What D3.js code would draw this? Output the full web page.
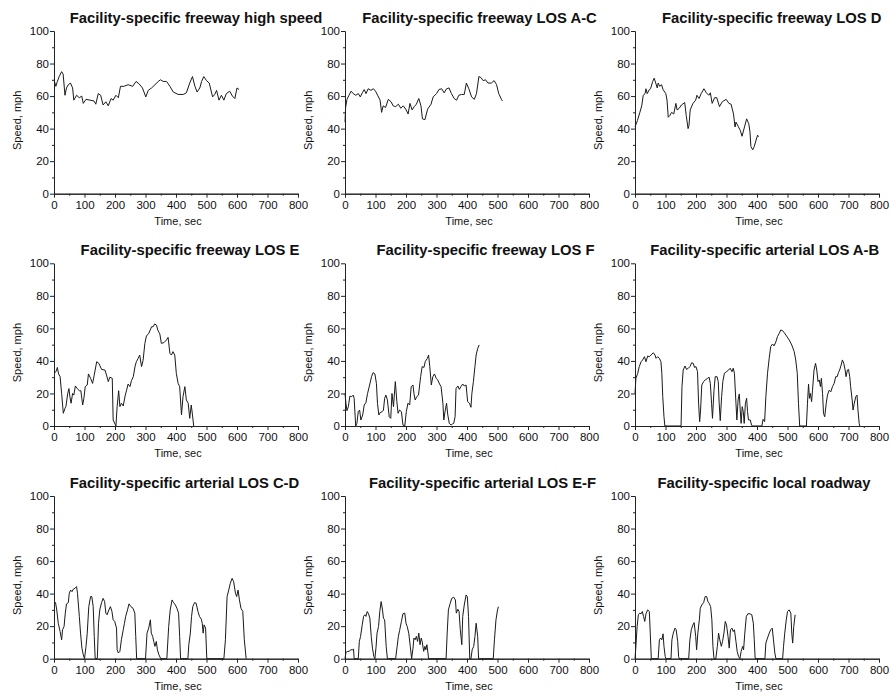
<!DOCTYPE html>
<html><head><meta charset="utf-8">
<script src="https://cdn.jsdelivr.net/npm/d3@7"></script>
<style>body{margin:0;background:#fff} svg{display:block} text{font-family:"Liberation Sans",Arial,sans-serif;fill:#111}</style>
</head><body><svg id="c" width="890" height="696"></svg>
<script>
const titles = [
  "Facility-specific freeway high speed",
  "Facility-specific freeway LOS A-C",
  "Facility-specific freeway LOS D",
  "Facility-specific freeway LOS E",
  "Facility-specific freeway LOS F",
  "Facility-specific arterial LOS A-B",
  "Facility-specific arterial LOS C-D",
  "Facility-specific arterial LOS E-F",
  "Facility-specific local roadway"
];
const xTicks = [0,100,200,300,400,500,600,700,800];
const xMinorTicks = [50,150,250,350,450,550,650,750];
const yTicks = [0,20,40,60,80,100];
const yMinorTicks = [10,30,50,70,90];
const xLabel = "Time, sec";
const yLabel = "Speed, mph";

const freewayHighSpeed = [[0,70],[6,66],[11,69],[17,72],[25,75],[30,73.5],[36,60.5],[41,65],[47,67],[54,68],[61,65],[65,57.5],[74,60.5],[83,59],[91,60],[96,55.5],[105,58],[118,57.5],[131,57],[137,55],[145,61.5],[153,60.5],[161,54.5],[170,56.5],[178,54],[187,58.5],[194,57.5],[203,60.5],[211,59],[218,66],[229,66],[243,67],[258,66],[269,69],[279,67.5],[290,65],[301,59.5],[309,63.5],[320,65],[331,67],[342,69],[349,70],[358,69],[369,69],[380,66],[391,62.5],[407,61],[424,61],[434,62],[445,68],[454,72],[462,66],[469,62.5],[478,65],[484,69],[491,72],[500,69.5],[509,68],[520,59.5],[527,61],[533,63.5],[541,57.5],[549,60.5],[557,57.5],[565,61.5],[576,63],[585,60],[593,58.5],[600,65],[607,64]];

const freewayLosAC = [[0,44],[2,53],[6.5,58],[13,60.5],[20,63],[27,61.5],[35,60.5],[44,61.5],[50,59.5],[57,62],[63,64],[69,61.5],[76,64.5],[85,63.5],[93,64.5],[100,63],[107,60.5],[115,57.5],[120,50],[125,54],[133,53],[142,58],[151,56.5],[158,54],[166,53.5],[175,55],[183,52.5],[191,54],[199,52],[207,49],[213,55.5],[220,51.5],[227,53.5],[234,55],[242,58.5],[249,54],[254,46],[262,45.5],[271,52],[282,55],[289,59.5],[300,61.5],[308,64],[317,64.5],[325,62],[333,64.5],[341,65],[349,61.5],[358,58.5],[366,57.5],[373,60.5],[382,61],[391,61],[398,68],[406,64.5],[415,59.5],[424,58],[431,61.5],[439,72],[445,71.5],[453,69.5],[461,70],[469,68],[480,68],[489,69.5],[497,67],[504,61.5],[513,58],[516,57]];

const freewayLosD = [[0,41],[8,45],[16,50],[22,54],[27,60.5],[33,61.5],[36,64.5],[40,61.5],[47,64],[51,64.5],[58,69],[63,71],[68,68],[73,65],[76,68],[81,66],[87,67],[92,64],[101,61.5],[105,57.5],[109,47],[114,48],[120,50],[127,49],[134,55.5],[138,51.5],[145,52.5],[152,54.5],[163,56],[168,48],[174,40],[177,42],[181,51.5],[190,55.5],[199,57.5],[203,60.5],[210,58.5],[217,61.5],[226,64.5],[234,62],[242,60.5],[247,62],[253,55.5],[261,59],[268,59],[277,53.5],[286,56.5],[299,58],[308,55.5],[315,55],[323,49],[328,41],[331,44],[338,41.5],[345,39],[351,35.3],[359,41],[366,46],[373,43],[377,38],[380,29],[386,27],[391,29],[397,33],[402,36],[405,35]];

const freewayLosE = [[0,32.4],[6.5,33.4],[11,36],[15,32],[20,30.3],[25,20],[30.5,7.8],[36,10.9],[39,11.9],[45,20],[49,23],[52,18],[56,14],[61,20],[65,19],[70,24.6],[76,23],[83,21.7],[88,21.7],[94,12.9],[98,17],[102.5,24.2],[109,25.2],[113,32],[120,29.3],[126.5,26.2],[132,31.4],[140,39.5],[147,38.5],[156,34.8],[167,34.4],[172,31.4],[178,27.3],[183,30],[191,29.3],[194,3.7],[200,1.2],[203,0],[207,11.9],[212,21.7],[216,11.9],[221,14],[227,12.3],[233,18.4],[238,22],[243,25.8],[249,24.2],[254,27.9],[260,30.3],[266,36.9],[270,39.5],[276,41.6],[281,43.6],[287,36.5],[292,40.2],[298,50.8],[303,55.3],[311,57],[320,61],[325,61],[330,62.7],[336,62],[341,58.6],[347,56.6],[352,50.8],[360,51.2],[369,52.9],[374,54.5],[380,44.7],[385,43.6],[390,45.7],[396,43.6],[401,32.4],[407,26.2],[412,24.2],[418,6.8],[423,18],[429,24.2],[434,16],[440,14],[445,4.7],[450,12.9],[454,6.8],[458,0]];

const freewayLosF = [[0,20],[3,14],[6.5,9.4],[11,11.9],[16,18.4],[22,18],[27,19],[30,17],[35,0],[39,1.6],[43.5,8.8],[48,9.8],[52,3.7],[58,6.8],[63,12.9],[68.5,14.3],[74,20],[81.5,25.8],[87,30.3],[92,32.8],[98,32],[103,26.2],[106.5,14],[111,6.8],[115,8.2],[122,8.8],[126,9.8],[130,17],[134,19],[139,16],[145,5.7],[150,4.7],[154,20],[159,11.9],[165,27.3],[170,15],[174,7.8],[179,9.8],[185,8.8],[190,0.6],[196,0],[201,8.8],[206.5,14],[212,12.9],[217,24.2],[223,25.2],[226,20],[230,16],[235,18],[241,19],[248,30.3],[253,36.5],[259,36],[263,39.5],[270,41.6],[274,43.6],[278,36.5],[283,25.2],[288,30.3],[293.5,32],[299,29.3],[304,28.3],[310,25.8],[315,24.2],[321,14],[324,3.7],[328,8.8],[333,14],[337,6.8],[342,1.6],[348,0.6],[352,1.2],[356.5,1.6],[361,5.7],[364,23],[370,24.6],[375,22.5],[380,24.2],[386,25.8],[391,24.6],[397,25.2],[402,15],[408,14],[413,11.5],[416,20],[421,27.3],[426,36.5],[430,43.6],[435,47.7],[440,49.8]];

const arterialLosAB = [[0,20],[3,29.3],[9,32.4],[14,36.5],[20,39.5],[25,40.6],[31,42.6],[36,39.5],[41.5,43],[47,42.6],[52,43.6],[60,45],[65.5,43.6],[69,41.6],[74,42.6],[80,41.6],[85,39.5],[88,32.4],[91,18],[95,5.7],[98,0],[151,0],[154,24.2],[158,34.4],[164,36.9],[169,34.8],[175,35.5],[180,36.5],[186,38.9],[191,38.5],[195,36],[200,36.5],[205,33.4],[208.5,14],[212,2.7],[215,9.8],[219,25.2],[225,27.3],[230,28.3],[238,29.3],[243,30],[247,26.2],[251,14],[254,4.7],[259,22],[263,30.3],[269,30.3],[273,27.3],[276,14],[279.5,3.3],[284,18],[288,27.3],[293,32.4],[300,33.4],[307,34.4],[312,35.5],[318,33.4],[322,35.5],[326,32.4],[331,14],[334,3.7],[338,16],[342,19.7],[345,9.8],[348,1.6],[351.5,11.9],[355,8.8],[358,1.6],[362,14],[366,17],[369,8.8],[372,3.7],[378,3.7],[382,0.6],[385,0],[416,0],[420,4.1],[425,2.7],[429,18],[434.5,32.4],[440,41.6],[445,48.8],[451,50.4],[456,49.2],[462,51.8],[467,54.9],[473,57],[478,59],[484,58.6],[489,57.4],[497,55.3],[505.5,52.9],[514,49.8],[522,45.7],[527,40.6],[532,32.4],[536,14],[540,0],[562,0],[565.5,14],[569,25.8],[572,17],[575,20],[579,15],[582,22],[587,34.4],[592,38.5],[596,34.4],[600,27.3],[604,28.3],[608,24.2],[611,29.3],[615,20],[618,7.8],[622,5.7],[627,14],[631,19],[636.5,22],[642,21],[647.5,24.2],[653,26.2],[658,30.3],[663,30.3],[667,32.8],[671,34.4],[676,37.5],[680,40.6],[684.5,38.5],[689,34.4],[692,30.3],[696.5,34.4],[700,34.8],[704,30.3],[707,24.2],[712,16],[715,9.8],[719,14],[724,18],[728,19],[731,9.8],[735,1.6],[737,0]];

const arterialLosCD = [[0,35],[5,34.5],[9,30],[14,21.8],[20,16.7],[25,11.6],[28,17.8],[33,19.8],[37,28],[41,33.7],[47,34.5],[50,40.2],[54.5,42.2],[59,41.2],[63,42.7],[69,43.3],[74,44.3],[77,40.2],[83,26],[87,15.7],[91.5,6.5],[96,2.4],[100,0],[105,7.6],[109,15.7],[114,32],[120,38.2],[124,38.2],[128.5,32],[132,13.7],[135,0],[142,0],[146,21.8],[150,30],[156,34.5],[161,37.1],[166,35.1],[170,28],[174,27],[180,30],[185,32],[190,29],[194,23.9],[199,22.9],[205,18.8],[207,5.5],[211,3.5],[216,4.5],[221,11.6],[227,17.8],[231,21.8],[235,26],[241,30],[246,33.7],[252,32],[259,31],[265,28],[268,13.7],[271,0],[300,0],[305,15.7],[310.5,18.8],[316,23.9],[319,15.7],[323.5,13.7],[327,10.6],[331,7.6],[335.5,10.6],[339,5.5],[344,2.4],[350,0],[370,0],[376,19.8],[381,30],[387,36.1],[392,34.5],[398,33],[403,31],[408.5,28],[412,13.7],[415,0],[439,0],[442,8.6],[447,15.7],[451,26],[455,32],[461,34.5],[466,34.1],[472,29],[477,26],[483,24.3],[486,21.8],[489,15.7],[492,20.8],[497,18.8],[501,0],[557,0],[562,11.6],[567.5,38.2],[573,42.2],[578,46.3],[584,49.4],[589,47.3],[595,40.2],[599,38.2],[603.5,42.2],[608,36.1],[613,31],[619,29],[624,11.6],[630,0]];

const arterialLosEF = [[0,0],[3,3.9],[9,4.5],[14,4.5],[18.5,5.5],[24,5.5],[28,5.9],[30,0],[43.5,0],[47,10.6],[51,13.7],[56.5,20.8],[61,26],[65,27],[68.5,26],[73,29],[77,27.6],[81.5,24.9],[86,13.7],[90,6.5],[94.6,1.4],[98,0],[102,7.6],[105,15.7],[110,19.8],[114,29],[118.5,35.1],[123,30],[126,24.9],[130,23.9],[135,7.6],[139,0],[166,0],[171,7.6],[175,13.7],[179,17.3],[185,22.9],[190,27.6],[196,28],[200,21.8],[204,19.8],[209,15.7],[214,7.6],[218.5,0],[223,6.5],[226,12.7],[230,11.6],[234,13.7],[238,10.6],[242,15.7],[246,8.6],[250,12.7],[253,10.6],[258,4.5],[262,7.6],[265,5.5],[268.5,8.6],[272,3.5],[274,0],[331.5,0],[335,15.7],[339,30],[345,34.1],[350,37.1],[356.5,37.8],[362,36.1],[365,28],[370,30.4],[374,29],[378,17.8],[383,8.6],[386,26],[391,33],[397,39.2],[401,38.2],[405,26],[409,0],[413,0],[417,5.5],[422,7.6],[426,13.7],[430,21.8],[435,13.7],[438,0],[486,0],[490,11.6],[495,23.9],[500,30],[503,32]];

const localRoadway = [[0,0],[3,7.6],[7,19.8],[11,27],[15,28],[20,27.6],[24,29],[28,26],[32,22.9],[36,27.6],[41.5,30],[47,29],[50,15.7],[53.5,0],[76,0],[80,11.6],[84,12.7],[88,11.6],[92,15.3],[95,7.6],[99,1.4],[101.5,0],[118,0],[121,11.6],[125.5,15.7],[131,18.8],[135,17.8],[140,10.6],[143,1.4],[145,0],[176,0],[180,11.6],[184.5,17.8],[190,20.8],[194,22.2],[199,13.7],[202,5.5],[206,15.7],[211,23.9],[214,31],[219,33],[225,34.5],[230,38.2],[235,38.2],[239,35.1],[243,34.1],[248,32],[252,23.9],[255.5,7.6],[259,0],[265,0],[270,7.6],[274,15.7],[278,11.6],[283,7.6],[287,10.6],[291.5,15.7],[296,22.9],[300,20.8],[305,13.7],[309,6.5],[313,17.8],[318,18.8],[322,16.7],[326,17.8],[331,10.6],[335,4.5],[339.5,1.4],[344,0],[348,4.5],[353,7.6],[356,5.5],[360,15.7],[365,26],[370,27.6],[377,27.6],[383,27],[388,21.8],[391,11.6],[394,0],[426,0],[429,9.6],[434.5,12.7],[440,15.7],[445,17.8],[450,18.8],[454,11.6],[458.5,3.5],[462,0],[484,0],[487,7.6],[491,15.7],[496,23.9],[500,29],[505.5,30],[511,28],[514,15.7],[517,9.6],[520.5,19.8],[525,27]];

const seriesList = [freewayHighSpeed, freewayLosAC, freewayLosD, freewayLosE, freewayLosF,
  arterialLosAB, arterialLosCD, arterialLosEF, localRoadway];

// layout
const colLeft = [54, 345, 635];
const rowTop = [31, 263.3, 496];
const plotW = 244, plotH = 162.7;
const titleDx = [20, 12.5, 14.7, 14, 18.5, 7.7, 8.5, 15.5, 7];

const svg = d3.select("#c");

seriesList.forEach((data, i) => {
  const col = i % 3, row = Math.floor(i / 3);
  const left = colLeft[col], top = rowTop[row];
  const x = d3.scaleLinear().domain([0, 800]).range([0, plotW]);
  const y = d3.scaleLinear().domain([0, 100]).range([plotH, 0]);
  const g = svg.append("g").attr("transform", `translate(${left},${top})`);

  // minor ticks
  g.append("g").attr("transform", `translate(0,${plotH})`)
    .call(d3.axisBottom(x).tickValues(xMinorTicks).tickSize(2).tickFormat("").tickSizeOuter(0));
  g.append("g")
    .call(d3.axisLeft(y).tickValues(yMinorTicks).tickSize(2).tickFormat("").tickSizeOuter(0));

  g.append("g").attr("transform", `translate(0,${plotH})`)
    .call(d3.axisBottom(x).tickValues(xTicks).tickSize(4).tickPadding(3).tickSizeOuter(0));
  g.append("g")
    .call(d3.axisLeft(y).tickValues(yTicks).tickSize(4).tickPadding(1).tickSizeOuter(0));
  g.selectAll(".domain, .tick line").attr("stroke", "#222").attr("stroke-width", 1);
  g.selectAll(".tick text").attr("font-size", 11.5).attr("font-family", '"Liberation Sans",Arial,sans-serif').attr("fill", "#111");

  g.append("path").datum(data)
    .attr("fill", "none").attr("stroke", "#1a1a1a").attr("stroke-width", 1)
    .attr("stroke-linejoin", "round")
    .attr("d", d3.line().x(d => x(d[0])).y(d => y(d[1])));

  g.append("text").attr("x", plotW / 2 + titleDx[i]).attr("y", -8.5)
    .attr("text-anchor", "middle").attr("font-size", 14.8).attr("font-weight", "bold")
    .text(titles[i]);

  g.append("text").attr("x", plotW / 2 + 2).attr("y", plotH + 31)
    .attr("text-anchor", "middle").attr("font-size", 11).text(xLabel);

  g.append("text").attr("transform", `translate(-37,${plotH / 2 + 8}) rotate(-90)`)
    .attr("text-anchor", "middle").attr("dy", "0.35em").attr("font-size", 11).text(yLabel);
});
</script></body></html>
